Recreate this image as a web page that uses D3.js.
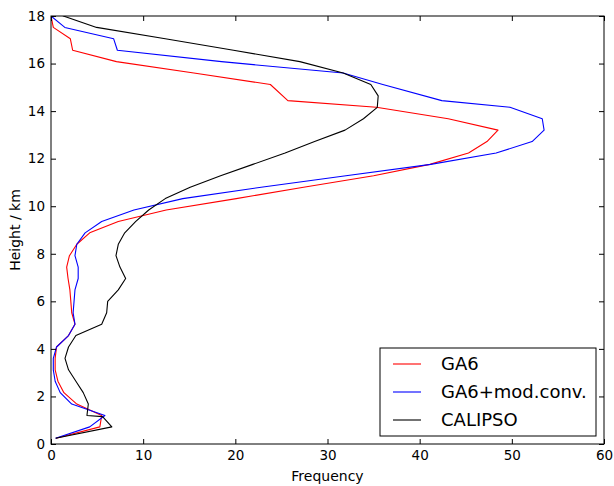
<!DOCTYPE html>
<html>
<head>
<meta charset="utf-8">
<script src="https://cdn.jsdelivr.net/npm/d3@7"></script>
<style>
  body { margin: 0; background: #fff; }
  text { font-family: "DejaVu Sans", sans-serif; }
</style>
</head>
<body>
<svg class="profile" width="614" height="486"></svg>
<script>
  // model levels (km) and frequencies for GA6 and GA6+mod.conv.
  const modelHeights = [0.24, 0.72, 1.20, 1.68, 2.16, 2.64, 3.12, 3.60, 4.08, 4.56,
    5.04, 5.52, 6.00, 6.48, 6.96, 7.44, 7.92, 8.40, 8.88, 9.36,
    9.84, 10.32, 10.80, 11.28, 11.76, 12.24, 12.72, 13.20, 13.68, 14.16,
    14.44, 15.12, 15.60, 16.08, 16.56, 17.04, 17.52, 18.00, 18.50];
  const ga6 = [0.54, 5.3, 5.5, 2.8, 1.4, 0.75, 0.45, 0.45, 0.6, 1.9,
    2.6, 2.25, 2.15, 2.05, 1.85, 1.7, 2.0, 2.8, 4.2, 7.3,
    12.5, 20.1, 27.4, 35.0, 41.1, 45.3, 47.3, 48.5, 43.1, 35.3,
    25.7, 23.8, 15.5, 7.1, 2.35, 2.1, 0.25, 0.0, 0.0];
  const ga6Conv = [0.5, 4.2, 5.85, 2.25, 1.0, 0.45, 0.25, 0.25, 0.6, 1.9,
    2.6, 2.4, 2.5, 2.6, 2.95, 2.95, 2.6, 2.8, 3.7, 5.5,
    9.0, 14.3, 22.8, 32.0, 41.2, 48.3, 52.2, 53.5, 53.3, 49.8,
    42.4, 36.0, 31.7, 18.5, 7.2, 6.8, 1.5, 0.0, 0.0];

  // CALIPSO levels (km) and frequencies
  const calipsoHeights = [0.24, 0.72, 1.15, 1.20, 1.68, 2.16, 2.64, 3.12, 3.60, 4.08,
    4.56, 5.04, 5.52, 6.00, 6.48, 6.96, 7.44, 7.92, 8.40, 8.88,
    9.36, 9.84, 10.32, 10.80, 11.28, 11.76, 12.24, 12.72, 13.20, 13.68,
    14.16, 14.64, 15.12, 15.60, 16.08, 16.56, 17.04, 17.52, 18.00, 18.50];
  const calipso = [0.5, 6.6, 5.6, 3.9, 4.05, 3.5, 2.7, 1.9, 1.52, 1.9,
    2.7, 5.5, 6.04, 6.15, 7.3, 8.1, 7.48, 7.05, 7.3, 8.0,
    9.2, 10.6, 12.4, 15.1, 18.4, 21.9, 25.4, 28.6, 31.9, 33.9,
    35.4, 35.5, 34.7, 31.7, 27.0, 19.8, 12.4, 4.95, 1.34, 0.0];

  const seriesNames = ['GA6', 'GA6+mod.conv.', 'CALIPSO'];
  const seriesColors = ['#ff0000', '#0000ff', '#000000'];
  const xTicks = [0, 10, 20, 30, 40, 50, 60];
  const yTicks = [0, 2, 4, 6, 8, 10, 12, 14, 16, 18];

  const svg = d3.select('.profile');
  const width = +svg.attr('width');
  const height = +svg.attr('height');
  const margin = { top: 16, right: 10, bottom: 42, left: 51 };
  const innerWidth = width - margin.left - margin.right;
  const innerHeight = height - margin.top - margin.bottom;

  const xScale = d3.scaleLinear().domain([0, 60]).range([0, innerWidth]);
  const yScale = d3.scaleLinear().domain([0, 18]).range([innerHeight, 0]);

  const g = svg.append('g')
    .attr('transform', `translate(${margin.left},${margin.top})`);

  const defs = svg.append('defs');
  defs.append('clipPath').attr('id', 'plotclip')
    .append('rect').attr('width', innerWidth).attr('height', innerHeight);

  const series = [
    { name: seriesNames[0], color: seriesColors[0], pts: modelHeights.map((h, i) => [ga6[i], h]) },
    { name: seriesNames[1], color: seriesColors[1], pts: modelHeights.map((h, i) => [ga6Conv[i], h]) },
    { name: seriesNames[2], color: seriesColors[2], pts: calipsoHeights.map((h, i) => [calipso[i], h]) }
  ];

  const line = d3.line()
    .x(d => xScale(d[0]))
    .y(d => yScale(d[1]));

  g.append('g').attr('clip-path', 'url(#plotclip)')
    .selectAll('path').data(series)
    .enter().append('path')
      .attr('d', d => line(d.pts))
      .attr('fill', 'none')
      .attr('stroke', d => d.color)
      .attr('stroke-width', 1.1)
      .attr('stroke-linejoin', 'round');

  // axes, matplotlib classic style: ticks inward on all four sides
  const tickLen = 5;
  const styleAxis = sel => {
    sel.select('.domain').remove();
    sel.selectAll('.tick line').attr('stroke', '#000');
    sel.selectAll('.tick text')
      .attr('font-size', '13.5px')
      .attr('fill', '#000');
  };
  // top/right copies only carry tick marks
  const marksOnly = sel => {
    sel.select('.domain').remove();
    sel.selectAll('.tick text').remove();
    sel.selectAll('.tick line').attr('stroke', '#000');
  };

  g.append('g')
    .attr('transform', `translate(0,${innerHeight})`)
    .call(d3.axisBottom(xScale).tickValues(xTicks).tickSizeInner(-tickLen).tickSizeOuter(0).tickPadding(6))
    .call(styleAxis);
  g.append('g')
    .call(d3.axisTop(xScale).tickValues(xTicks).tickSizeInner(-tickLen).tickSizeOuter(0))
    .call(marksOnly);
  g.append('g')
    .call(d3.axisLeft(yScale).tickValues(yTicks).tickSizeInner(-tickLen).tickSizeOuter(0).tickPadding(6))
    .call(styleAxis);
  g.append('g')
    .attr('transform', `translate(${innerWidth},0)`)
    .call(d3.axisRight(yScale).tickValues(yTicks).tickSizeInner(-tickLen).tickSizeOuter(0))
    .call(marksOnly);

  g.append('rect')
    .attr('width', innerWidth)
    .attr('height', innerHeight)
    .attr('fill', 'none')
    .attr('stroke', '#000')
    .attr('stroke-width', 1);

  svg.append('text')
    .attr('x', margin.left + innerWidth / 2)
    .attr('y', height - 5)
    .attr('text-anchor', 'middle')
    .attr('font-size', '14px')
    .text('Frequency');

  svg.append('text')
    .attr('transform', `translate(20,${margin.top + innerHeight / 2}) rotate(-90)`)
    .attr('text-anchor', 'middle')
    .attr('font-size', '14px')
    .text('Height / km');

  // legend, lower right
  const legend = g.append('g')
    .attr('transform', `translate(${innerWidth - 224},${innerHeight - 96})`);
  legend.append('rect')
    .attr('width', 216)
    .attr('height', 88)
    .attr('fill', '#fff')
    .attr('stroke', '#000')
    .attr('stroke-width', 1);
  const item = legend.selectAll('.item').data(series)
    .enter().append('g')
      .attr('class', 'item')
      .attr('transform', (d, i) => `translate(0,${16 + i * 28})`);
  item.append('line')
    .attr('x1', 13).attr('x2', 41)
    .attr('stroke', d => d.color)
    .attr('stroke-width', 1.1);
  item.append('text')
    .attr('x', 61)
    .attr('dy', '0.36em')
    .attr('font-size', '18px')
    .text(d => d.name);
</script>
</body>
</html>
